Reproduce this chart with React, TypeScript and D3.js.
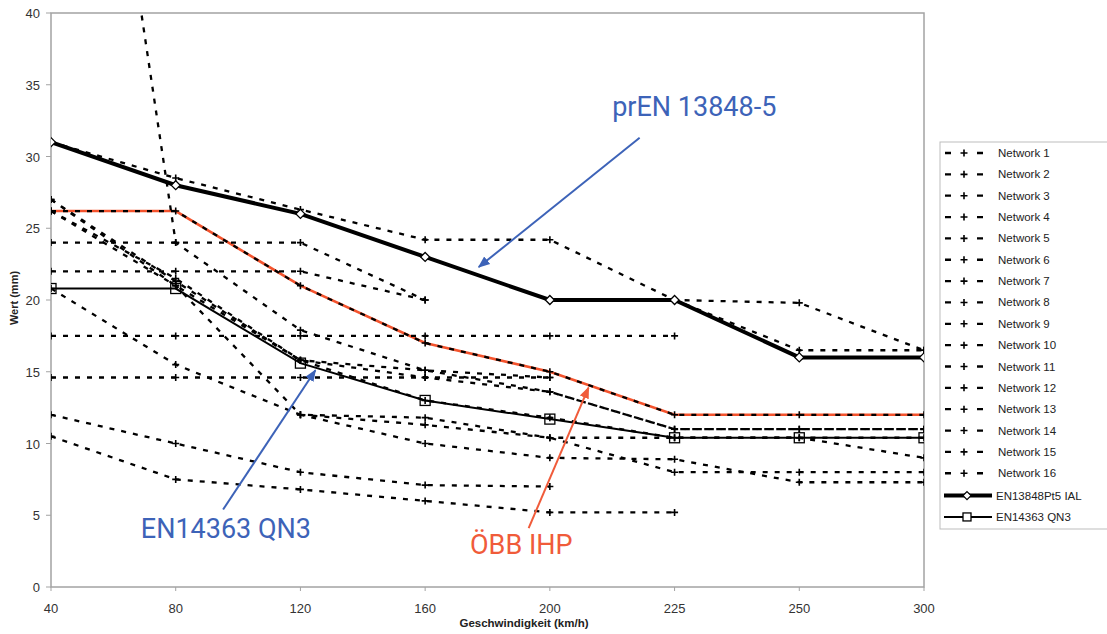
import React from 'react'
import * as d3 from 'd3'

// speeds on the x axis (km/h), evenly spaced categories
const speeds = ['40', '80', '120', '160', '200', '225', '250', '300']
const yTicks = [0, 5, 10, 15, 20, 25, 30, 35, 40]

// network values (mm), null = no value
const network1 = [31, 28.5, 26.3, 24.2, 24.2, 20, 19.8, 16.5]
const network2 = [31, 28, 26, 23, 20, 20, 16.5, 16.5]
const network3 = [24, 24, 24, 20, null, null, null, null]
const network4 = [82, 24, 17.9, 15.1, 13.6, 11, 11, 11]
const network5 = [27, 21, 15.8, 13, 11.8, 10.4, 10.4, 10.4]
const network6 = [26.2, 26.2, 21, 17, 15, 12, 12, 12]
const network7 = [17.5, 17.5, 17.5, 17.5, 17.5, 17.5, null, null]
const network8 = [14.6, 14.6, 14.6, 14.6, 14.6, null, null, null]
const network9 = [20.8, 15.5, 12, 11.8, 10.4, 10.4, 10.4, 9]
const network10 = [22, 22, 22, 20, null, null, null, null]
const network11 = [12, 10, 8, 7.1, 7, null, null, null]
const network12 = [10.5, 7.5, 6.8, 6, 5.2, 5.2, null, null]
const network13 = [26.2, 21, 12, 10, 9, 8.9, 7.3, 7.3]
const network14 = [null, null, 12, 11.3, 10.4, 8, 8, 8]
const network15 = [27, 21.3, 15.8, 14.6, 13.6, 11, 11, 11]
const network16 = [26.2, 21.5, 15.8, 15.1, 14.6, null, null, null]

const networks = [
  network1, network2, network3, network4, network5, network6, network7, network8,
  network9, network10, network11, network12, network13, network14, network15, network16,
]

const ialValues = [31, 28, 26, 23, 20, 20, 16, 16]
const qn3Values = [20.8, 20.8, 15.6, 13, 11.7, 10.4, 10.4, 10.4]
const obbValues = [26.2, 26.2, 21, 17, 15, 12, 12, 12]

// annotation labels: [label, text idx, text value, tail idx, tail value, tip idx, tip value]
const annotations = [
  { label: 'prEN 13848-5', color: '#3d63b8', tx: 4.5, tv: 32.8, fx: 4.72, fv: 31.3, ax: 3.43, av: 22.3 },
  { label: 'EN14363 QN3', color: '#3d63b8', tx: 0.72, tv: 3.4, fx: 1.38, fv: 5.4, ax: 2.12, av: 15.1 },
  { label: 'ÖBB IHP', color: '#f05b3a', tx: 3.36, tv: 2.3, fx: 3.83, fv: 4.1, ax: 4.31, av: 13.9 },
]

const W = 1107
const H = 634
const margin = { top: 13, right: 183, bottom: 47, left: 51 }
const font = '"Liberation Sans", Arial, sans-serif'

const Cross = ({ x, y }: { x: number; y: number }) => (
  <path d={`M${x - 3.5},${y}H${x + 3.5}M${x},${y - 3.5}V${y + 3.5}`} stroke="#000" strokeWidth={1.6} />
)

const App = () => {
  const x = d3.scalePoint<string>().domain(speeds).range([margin.left, W - margin.right])
  const y = d3.scaleLinear().domain([0, 40]).range([H - margin.bottom, margin.top])
  const step = x.step()
  const xi = (i: number) => (x(speeds[0]) as number) + i * step

  const line = d3
    .line<number | null>()
    .defined((d) => d !== null)
    .x((_, i) => x(speeds[i]) as number)
    .y((d) => y(d as number))

  const legendX = 942
  const legendY = 153
  const legendStep = 21.35
  const legendItems = networks.map((_, i) => `Network ${i + 1}`)

  return (
    <svg width={W} height={H} style={{ position: 'absolute', left: 0, top: 0, background: '#fff' }}>
      <defs>
        <clipPath id="plot">
          <rect x={margin.left} y={margin.top} width={W - margin.right - margin.left} height={H - margin.bottom - margin.top} />
        </clipPath>
        {annotations.map((a, i) => (
          <marker key={i} id={`arr${i}`} viewBox="0 0 10 10" refX="9" refY="5" markerWidth="6" markerHeight="6" orient="auto">
            <path d="M0,1L10,5L0,9z" fill={a.color} />
          </marker>
        ))}
      </defs>

      {/* frame */}
      <rect
        x={margin.left}
        y={margin.top}
        width={W - margin.right - margin.left}
        height={H - margin.bottom - margin.top}
        fill="none"
        stroke="#a3a3a3"
        strokeWidth={1.5}
      />

      {/* y axis */}
      {yTicks.map((t) => (
        <g key={t}>
          <line x1={margin.left - 5} x2={margin.left} y1={y(t)} y2={y(t)} stroke="#a3a3a3" />
          <text x={40} y={y(t) + 5} textAnchor="end" fontFamily={font} fontSize={13} fill="#333">
            {t}
          </text>
        </g>
      ))}
      {/* x axis */}
      {speeds.map((s) => (
        <g key={s}>
          <line x1={x(s)} x2={x(s)} y1={H - margin.bottom} y2={H - margin.bottom + 4} stroke="#a3a3a3" />
          <text x={x(s)} y={613} textAnchor="middle" fontFamily={font} fontSize={13} fill="#333">
            {s}
          </text>
        </g>
      ))}
      <text x={524} y={627} textAnchor="middle" fontFamily={font} fontSize={11.5} fontWeight="bold" fill="#222">
        Geschwindigkeit (km/h)
      </text>
      <text
        transform={`translate(18,${298}) rotate(-90)`}
        textAnchor="middle"
        fontFamily={font}
        fontSize={11}
        fontWeight="bold"
        fill="#222"
      >
        Wert (mm)
      </text>

      <g clipPath="url(#plot)">
        {/* ÖBB IHP highlight */}
        <path d={line(obbValues) || ''} fill="none" stroke="#f4532d" strokeWidth={2.6} />

        {networks.map((vals, k) => (
          <g key={k}>
            <path d={line(vals) || ''} fill="none" stroke="#000" strokeWidth={2.3} strokeDasharray="5,7" />
            {vals.map((v, i) => (v === null ? null : <Cross key={i} x={x(speeds[i]) as number} y={y(v)} />))}
          </g>
        ))}

        {/* EN13848Pt5 IAL */}
        <path d={line(ialValues) || ''} fill="none" stroke="#000" strokeWidth={4} />
        {ialValues.map((v, i) => (
          <path
            key={i}
            d={`M${x(speeds[i])},${y(v) - 4.5}l4.5,4.5l-4.5,4.5l-4.5,-4.5z`}
            fill="#fff"
            stroke="#000"
            strokeWidth={1.3}
          />
        ))}

        {/* EN14363 QN3 */}
        <path d={line(qn3Values) || ''} fill="none" stroke="#000" strokeWidth={2} />
        {qn3Values.map((v, i) => (
          <rect
            key={i}
            x={(x(speeds[i]) as number) - 5}
            y={y(v) - 5}
            width={10}
            height={10}
            fill="none"
            stroke="#000"
            strokeWidth={1.3}
          />
        ))}
      </g>

      {/* annotations */}
      {annotations.map((a, i) => (
        <g key={i}>
          <line
            x1={xi(a.fx)}
            y1={y(a.fv)}
            x2={xi(a.ax)}
            y2={y(a.av)}
            stroke={a.color}
            strokeWidth={2}
            markerEnd={`url(#arr${i})`}
          />
          <text x={xi(a.tx)} y={y(a.tv)} fontFamily="Roboto, 'Open Sans', sans-serif" fontSize={27} fill={a.color}>
            {a.label}
          </text>
        </g>
      ))}

      {/* legend */}
      <rect x={legendX - 2} y={142} width={170} height={387} fill="#fff" stroke="#bdbdbd" />
      {legendItems.map((name, i) => {
        const ly = legendY + i * legendStep
        return (
          <g key={name}>
            <line x1={945} x2={983} y1={ly} y2={ly} stroke="#000" strokeWidth={2.3} strokeDasharray="6,26" />
            <Cross x={964} y={ly} />
            <text x={998} y={ly + 4} fontFamily={font} fontSize={11.5} fill="#222">
              {name}
            </text>
          </g>
        )
      })}
      {(() => {
        const ly = legendY + 16 * legendStep + 1
        const ly2 = legendY + 17 * legendStep + 1
        return (
          <g>
            <line x1={944} x2={992} y1={ly} y2={ly} stroke="#000" strokeWidth={4} />
            <path d={`M967,${ly - 4}l4,4l-4,4l-4,-4z`} fill="#fff" stroke="#000" strokeWidth={1.3} />
            <text x={996} y={ly + 4} fontFamily={font} fontSize={11.5} fill="#222">
              EN13848Pt5 IAL
            </text>
            <line x1={944} x2={992} y1={ly2} y2={ly2} stroke="#000" strokeWidth={2} />
            <rect x={963} y={ly2 - 4} width={8} height={8} fill="#fff" stroke="#000" strokeWidth={1.3} />
            <text x={996} y={ly2 + 4} fontFamily={font} fontSize={11.5} fill="#222">
              EN14363 QN3
            </text>
          </g>
        )
      })()}
    </svg>
  )
}

export default App
